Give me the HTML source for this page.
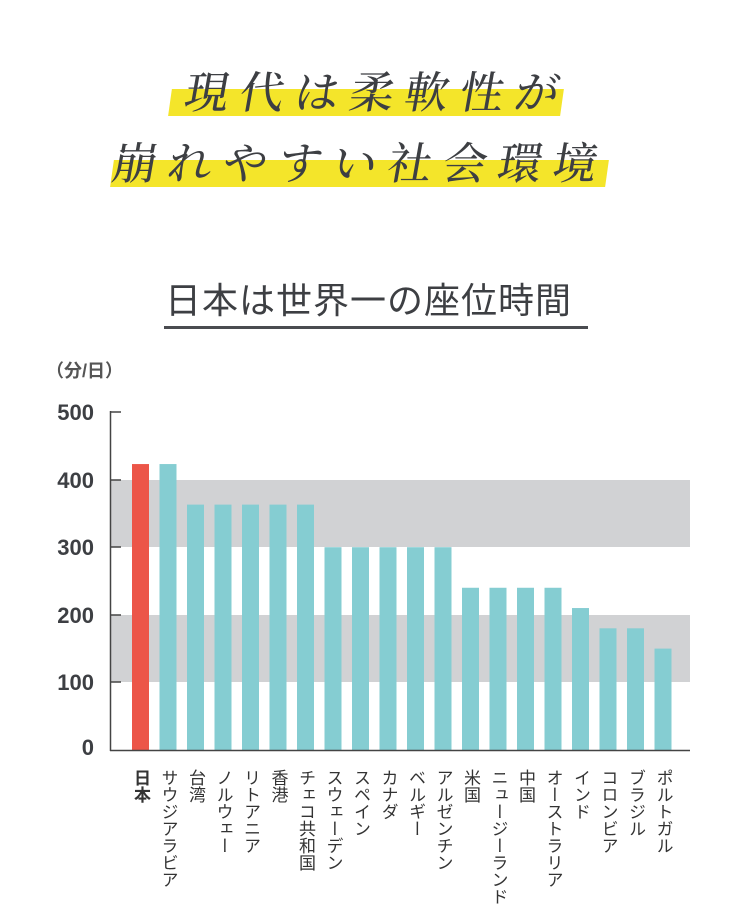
<!DOCTYPE html>
<html><head><meta charset="utf-8"><style>
body{margin:0;width:751px;height:922px;background:#fff;position:relative;overflow:hidden;font-family:"Liberation Sans","Noto Sans CJK JP",sans-serif;color:#3d3f43}
.a{position:absolute}
.hl{position:absolute;background:#f4e52a;transform:skewX(-8deg)}
.t1{position:absolute;font-family:"Noto Serif CJK SC","Liberation Serif",serif;font-size:44px;line-height:50px;letter-spacing:11px;white-space:nowrap;transform:skewX(-10deg);color:#3d3f43;font-weight:500}
.lab{position:absolute;top:769px;writing-mode:vertical-rl;font-size:17px;line-height:17px;color:#333;white-space:nowrap}
.yt{position:absolute;left:38px;width:56px;text-align:right;font-size:22px;font-weight:bold;color:#3d3f43}
</style></head><body>
<div class="hl" style="left:170px;top:89px;width:392px;height:27px"></div>
<div class="hl" style="left:112px;top:160px;width:495px;height:27px"></div>
<div class="t1" style="left:186px;top:64px">現代は柔軟性が</div>
<div class="t1" style="left:114px;top:135px">崩れやすい社会環境</div>
<div class="a" style="left:165px;top:272px;font-size:36px;letter-spacing:1px;white-space:nowrap">日本は世界一の座位時間</div>
<div class="a" style="left:164px;top:326px;width:424px;height:3px;background:#4a4c50"></div>
<div class="a" style="left:46px;top:357px;font-size:18px;font-weight:bold;color:#555">（分/日）</div>
<svg class="a" style="left:0;top:0" width="751" height="922">
<rect x="110" y="480" width="580" height="67" fill="#d1d2d4"/>
<rect x="110" y="615" width="580" height="67" fill="#d1d2d4"/>
<g id="bars"></g>
<line x1="110.5" y1="411" x2="110.5" y2="751" stroke="#444" stroke-width="1.5"/>
<line x1="110" y1="750.5" x2="690" y2="750.5" stroke="#444" stroke-width="1.5"/>
<g stroke="#444" stroke-width="1.5">
<line x1="110" y1="412" x2="121" y2="412"/><line x1="110" y1="480" x2="121" y2="480"/><line x1="110" y1="547" x2="121" y2="547"/><line x1="110" y1="615" x2="121" y2="615"/><line x1="110" y1="682" x2="121" y2="682"/>
</g>
</svg>
<div class="yt" style="top:400px">500</div>
<div class="yt" style="top:468px">400</div>
<div class="yt" style="top:535px">300</div>
<div class="yt" style="top:603px">200</div>
<div class="yt" style="top:670px">100</div>
<div class="yt" style="top:735px">0</div>
<div id="labs"></div>
<script>
var v=[423,423,363,363,363,363,363,300,300,300,300,300,240,240,240,240,210,180,180,150];
var n=["日本","サウジアラビア","台湾","ノルウェー","リトアニア","香港","チェコ共和国","スウェーデン","スペイン","カナダ","ベルギー","アルゼンチン","米国","ニュージーランド","中国","オーストラリア","インド","コロンビア","ブラジル","ポルトガル"];
var s="",l="";
for(var i=0;i<20;i++){var x=132+i*27.5,h=v[i]*0.676;
s+='<rect x="'+x+'" y="'+(750-h)+'" width="17" height="'+h+'" fill="'+(i?'#85cdd2':'#ec5548')+'"/>';
l+='<div class="lab" style="left:'+(x+0)+'px;'+(i?'':'font-weight:bold;')+'">'+n[i]+'</div>';}
document.getElementById("bars").innerHTML=s;
document.getElementById("labs").innerHTML=l;
</script>
</body></html>
